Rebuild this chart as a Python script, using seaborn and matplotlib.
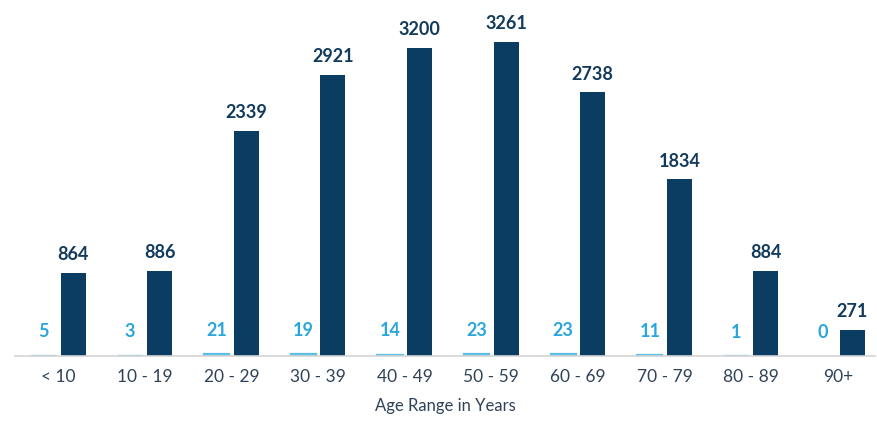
import matplotlib
matplotlib.use("Agg")
import matplotlib.pyplot as plt
import seaborn as sns
import pandas as pd

categories = ["< 10", "10 - 19", "20 - 29", "30 - 39", "40 - 49", "50 - 59",
              "60 - 69", "70 - 79", "80 - 89", "90+"]
series_a = [5, 3, 21, 19, 14, 23, 23, 11, 1, 0]
series_b = [864, 886, 2339, 2921, 3200, 3261, 2738, 1834, 884, 271]
series_names = ["A", "B"]
x_label = "Age Range in Years"

light_col = "#5bbfe6"
light_txt = "#2aa6dc"
dark_col = "#0b3d63"
dark_txt = "#123a5c"
tick_col = "#2f4358"

df = pd.DataFrame({
    "cat": categories * 2,
    "val": series_a + series_b,
    "series": [series_names[0]] * len(categories) + [series_names[1]] * len(categories),
})

sns.set_theme(style="white")
plt.rcParams["font.family"] = ["Lato", "DejaVu Sans"]

fig = plt.figure(figsize=(8.77, 4.26), dpi=100)
ax = fig.add_axes([15 / 877, 70 / 426, 860 / 877, 351 / 426])

sns.barplot(data=df, x="cat", y="val", hue="series", order=categories,
            hue_order=series_names, palette=[light_col, dark_col],
            width=0.68, gap=0.15, saturation=1, legend=False, ax=ax,
            edgecolor="none")

ax.set_xlim(-0.5, 9.43)
ax.set_ylim(0, 3261 * 351 / 314)

# make the tiny light bars visible as thin strokes (except zero)
for p, v in zip(ax.containers[0].patches, ax.containers[0].datavalues):
    if v > 0:
        p.set_edgecolor(light_col)
        p.set_linewidth(1.6)

for cont, col in zip(ax.containers, [light_txt, dark_txt]):
    labels = [f"{int(v)}" for v in cont.datavalues]
    ax.bar_label(cont, labels=labels, padding=(11 if col == light_txt else 7),
                 color=col, fontsize=13, fontweight="bold")

for s in ["top", "right", "left"]:
    ax.spines[s].set_visible(False)
ax.spines["bottom"].set_color("#d4d4d4")
ax.spines["bottom"].set_linewidth(1.2)
ax.set_yticks([])
ax.set_ylabel("")
ax.tick_params(axis="x", length=0, pad=9, labelsize=12.5, labelcolor=tick_col)
ax.set_xlabel(x_label, fontsize=12, color=tick_col, labelpad=10)

fig.savefig("out.png", dpi=100)
